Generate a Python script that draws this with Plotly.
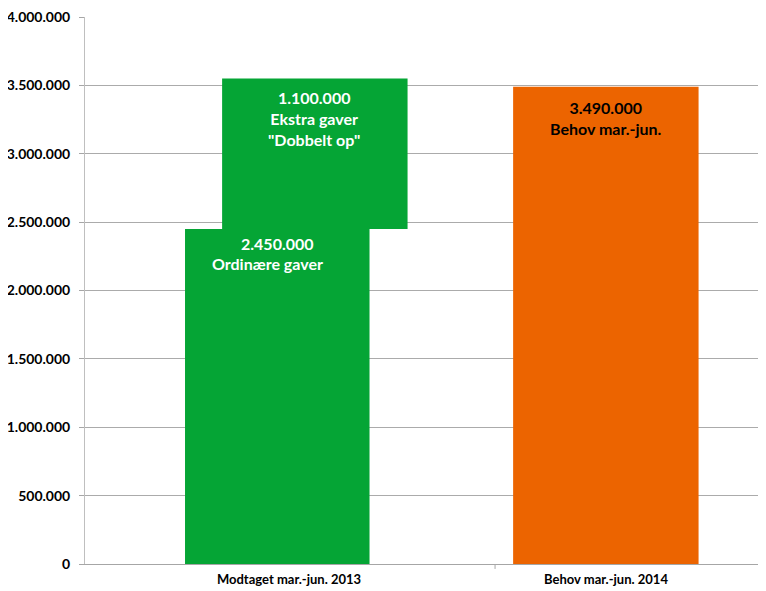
import plotly.graph_objects as go

categories = ["Modtaget mar.-jun. 2013", "Behov mar.-jun. 2014"]
ordinary_gifts = 2450000
extra_gifts = 1100000
need_2014 = 3490000
ordinary_label = "Ordinære gaver"
extra_label = ["Ekstra gaver", "\"Dobbelt op\""]
need_label = "Behov mar.-jun."
y_ticks = [0, 500000, 1000000, 1500000, 2000000, 2500000, 3000000, 3500000, 4000000]

GREEN = "#05A535"
ORANGE = "#EC6400"
FONT = "Lato"


def dk(v):
    return f"{v:,}".replace(",", ".")


fig = go.Figure()
fig.add_trace(go.Bar(x=[categories[0]], y=[ordinary_gifts], offset=-0.328, width=0.582,
                     marker=dict(color=GREEN, line=dict(width=0)), hoverinfo="skip"))
fig.add_trace(go.Bar(x=[categories[0]], y=[extra_gifts], base=[ordinary_gifts], offset=-0.211, width=0.585,
                     marker=dict(color=GREEN, line=dict(width=0)), hoverinfo="skip"))
fig.add_trace(go.Bar(x=[categories[1]], y=[need_2014], offset=-0.293, width=0.585,
                     marker=dict(color=ORANGE, line=dict(width=0)), hoverinfo="skip"))

ann_font_w = dict(family=FONT, size=16, color="white", weight="bold")
ann_font_b = dict(family=FONT, size=16, color="black", weight="bold")

fig.add_annotation(x=categories[0], xshift=25, y=ordinary_gifts + extra_gifts, yshift=-7,
                   yanchor="top", showarrow=False, font=ann_font_w,
                   text="<br>".join([dk(extra_gifts)] + extra_label))
fig.add_annotation(x=categories[0], xshift=-12, y=ordinary_gifts, yshift=-3,
                   yanchor="top", showarrow=False, font=ann_font_w,
                   text=dk(ordinary_gifts))
fig.add_annotation(x=categories[0], xshift=-22, y=ordinary_gifts, yshift=-23,
                   yanchor="top", showarrow=False, font=ann_font_w,
                   text=ordinary_label)
fig.add_annotation(x=categories[1], y=need_2014, yshift=-9,
                   yanchor="top", showarrow=False, font=ann_font_b,
                   text=dk(need_2014) + "<br>" + need_label)

# category divider tick
fig.add_shape(type="line", xref="x", yref="paper", x0=0.65, x1=0.65, y0=0, y1=-0.009,
              line=dict(color="#A6A6A6", width=1))

fig.update_layout(
    width=766, height=591,
    margin=dict(l=77, r=8, t=9, b=35),
    paper_bgcolor="white", plot_bgcolor="white",
    showlegend=False, barmode="overlay",
    separators=",.",
    font=dict(family=FONT, size=13, color="black"),
)
fig.update_xaxes(range=[-0.6435, 1.5047], showline=True, linecolor="#A6A6A6", linewidth=1,
                 automargin=False, ticklabelstandoff=3,
                 showgrid=False, ticks="", tickfont=dict(family=FONT, size=13, weight="bold"))
fig.update_yaxes(range=[0, 4000500], tickvals=y_ticks, ticktext=[dk(v) for v in y_ticks],
                 automargin=False,
                 showgrid=True, gridcolor="#ABABAB", gridwidth=1, zeroline=False,
                 showline=True, linecolor="#BFBFBF", linewidth=1,
                 ticks="outside", ticklen=5, tickcolor="#A6A6A6",
                 ticklabeloverflow="allow", ticklabelstandoff=6,
                 tickfont=dict(family=FONT, size=14, weight="bold"))

fig.write_html("out.html")
